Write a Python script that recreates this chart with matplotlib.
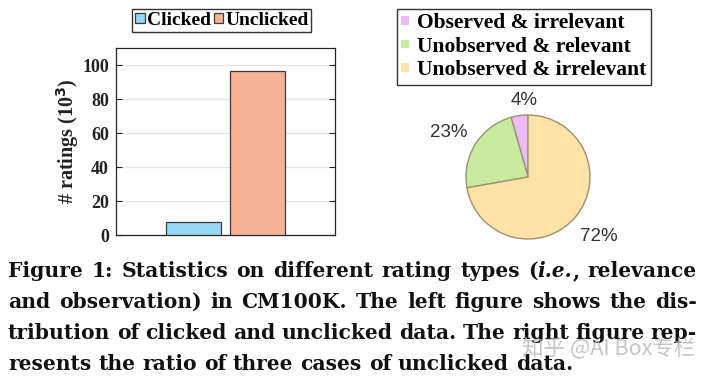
import matplotlib
matplotlib.use("Agg")
import matplotlib.pyplot as plt
from matplotlib.patches import Patch
import numpy as np

# data
bar_labels = ["Clicked", "Unclicked"]
bar_values = [7.5, 96.2]          # ratings, in thousands
bar_colors = ["#96d7f5", "#f8b296"]

pie_labels = ["Observed & irrelevant", "Unobserved & relevant", "Unobserved & irrelevant"]
pie_values = [4.4, 23.4, 72.2]
pie_texts = ["4%", "23%", "72%"]
pie_colors = ["#eebaf8", "#c8eba0", "#fee2a6"]

caption = [
    [["Figure"], ["1:"], ["Statistics"], ["on"], ["different"], ["rating"], ["types"],
     ["(", ("i.e.", "italic"), ","], ["relevance"]],
    "and observation) in CM100K. The left figure shows the dis-",
    "tribution of clicked and unclicked data. The right figure rep-",
    "resents the ratio of three cases of unclicked data.",
]

W, H = 714, 380
fig = plt.figure(figsize=(W / 100, H / 100), dpi=100)
serif = "Liberation Serif"

# ---- left: bar chart
ax = fig.add_axes([116 / W, 1 - 235 / H, 219 / W, 187 / H])
x = np.arange(1, len(bar_values) + 1)
bars = ax.bar(x, bar_values, width=0.86, color=bar_colors, edgecolor="#3a3a3a",
              linewidth=0.9, zorder=3, label=bar_labels)
ax.set_xlim(-0.21, 3.21)
ax.set_ylim(0, 110)
ax.set_yticks(np.arange(0, 101, 20))
ax.set_xticks([])
ax.grid(axis="y", color="#e3e3e3", linewidth=0.9, zorder=0)
ax.tick_params(axis="y", direction="in", length=4, right=True, width=0.8,
               labelsize=13, pad=5, colors="#262626")
for lab in ax.get_yticklabels():
    lab.set_fontfamily(serif)
    lab.set_fontweight("bold")
    lab.set_color("#222222")
for s in ax.spines.values():
    s.set_color("#262626")
    s.set_linewidth(0.9)
ax.set_ylabel("# ratings (10$^{\\mathbf{3}}$)", fontsize=14.5, fontweight="bold", family=serif,
              color="#222222", labelpad=1)

fig.legend(handles=bars.patches, labels=bar_labels, loc="upper left",
           bbox_to_anchor=(132 / W, 1 - 9 / H), borderaxespad=0, ncol=2,
           prop={"family": serif, "weight": "bold", "size": 14},
           handlelength=0.5, handleheight=0.35, handletextpad=0.1, columnspacing=0.15,
           borderpad=0.15, fancybox=False, edgecolor="#333333", framealpha=1)

# ---- right: pie chart
r = 62
ax2 = fig.add_axes([(528 - 1.25 * r) / W, (380 - 177 - 1.25 * r) / H, 2.5 * r / W, 2.5 * r / H])
wedges, _ = ax2.pie(pie_values, colors=pie_colors, startangle=90, counterclock=True,
                    wedgeprops={"edgecolor": "#9c9272", "linewidth": 1.0})
dist = [1.24, 1.47, 1.5]
for w, t, d in zip(wedges, pie_texts, dist):
    ang = np.deg2rad((w.theta1 + w.theta2) / 2)
    if t == "4%":
        ang = np.deg2rad(w.theta1 + 3)
    if t == "23%":
        ang += np.deg2rad(2.5)
    ax2.text(d * np.cos(ang), d * np.sin(ang), t, ha="center", va="center",
             fontsize=13.5, family="Liberation Sans", color="#333333")

fig.legend(handles=[Patch(facecolor=c, edgecolor="none") for c in pie_colors],
           labels=pie_labels, loc="upper left", bbox_to_anchor=(397 / W, 1 - 9 / H),
           borderaxespad=0, prop={"family": serif, "weight": "bold", "size": 15.5},
           handlelength=0.35, handleheight=0.25, handletextpad=0.4, labelspacing=0.16,
           borderpad=0.2, fancybox=False, edgecolor="#333333", framealpha=1)

# ---- caption, justified word by word
renderer = fig.canvas.get_renderer()
cap_font = "DejaVu Serif"
left, right = 8, 697
baselines = [277, 308, 339, 370]

# pick the size so the last line is as long as in the source (~565 px)
probe = fig.text(0, 0, caption[-1], fontsize=10, family=cap_font, fontweight="bold")
cap_size = 10 * 565 / probe.get_window_extent(renderer).width
probe.remove()


def seg_text(s, style, xpx, ypx):
    return fig.text(xpx / W, 1 - ypx / H, s, fontsize=cap_size, family=cap_font,
                    fontweight="bold", fontstyle=style, va="baseline", ha="left",
                    color="#111111")


for i, line in enumerate(caption):
    if isinstance(line, str):
        words = [[w] for w in line.split(" ")]
    else:
        words = line
    items = []
    for wd in words:
        segs = []
        for s in wd:
            txt, style = (s, "normal") if isinstance(s, str) else s
            t = seg_text(txt, style, 0, baselines[i])
            segs.append((t, t.get_window_extent(renderer).width))
        items.append(segs)
    widths = [sum(sw for _, sw in segs) for segs in items]
    if i < len(caption) - 1:
        gap = (right - left - sum(widths)) / (len(items) - 1)
    else:
        gap = (565 - sum(widths)) / (len(items) - 1)
    xp = left
    for segs, wsum in zip(items, widths):
        xs = xp
        for t, sw in segs:
            t.set_x(xs / W)
            xs += sw
        xp += wsum + gap

# faint watermark, drawn over the caption as in the source image
fig.text(609 / W, 1 - 349 / H, "知乎 @AI Box专栏", fontsize=15.5, ha="center", va="center",
         family=["Noto Sans CJK SC", "DejaVu Sans"], color="#b8b8b8", alpha=0.8)

fig.savefig("out.png", dpi=100)
